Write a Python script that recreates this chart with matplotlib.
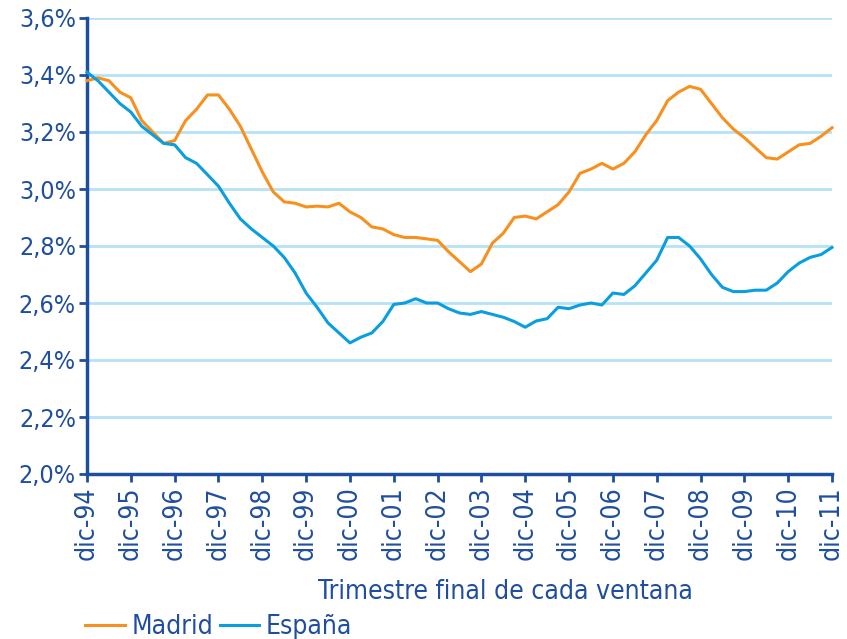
import matplotlib
matplotlib.use("Agg")
import matplotlib.pyplot as plt
from matplotlib.ticker import FuncFormatter, MultipleLocator
from matplotlib import font_manager

years = ["94", "95", "96", "97", "98", "99", "00", "01", "02", "03",
         "04", "05", "06", "07", "08", "09", "10", "11"]
year_labels = ["dic-" + y for y in years]

madrid = [3.38, 3.39, 3.38, 3.34, 3.32, 3.24, 3.20, 3.16, 3.17, 3.24,
          3.28, 3.33, 3.33, 3.28, 3.22, 3.14, 3.06, 2.99, 2.955, 2.95,
          2.937, 2.94, 2.937, 2.95, 2.92, 2.90, 2.867, 2.86, 2.84, 2.83,
          2.83, 2.825, 2.82, 2.78, 2.745, 2.71, 2.737, 2.81, 2.845, 2.90,
          2.905, 2.895, 2.92, 2.945, 2.99, 3.055, 3.07, 3.09, 3.07, 3.09,
          3.13, 3.19, 3.24, 3.31, 3.34, 3.36, 3.35, 3.30, 3.25, 3.21,
          3.18, 3.145, 3.11, 3.105, 3.13, 3.155, 3.16, 3.185, 3.215]

espana = [3.41, 3.38, 3.34, 3.30, 3.27, 3.22, 3.19, 3.16, 3.155, 3.11,
          3.09, 3.05, 3.01, 2.95, 2.895, 2.86, 2.83, 2.80, 2.76, 2.705,
          2.635, 2.585, 2.53, 2.495, 2.46, 2.48, 2.495, 2.535, 2.595, 2.60,
          2.615, 2.60, 2.60, 2.58, 2.565, 2.56, 2.57, 2.56, 2.55, 2.535,
          2.515, 2.537, 2.545, 2.585, 2.58, 2.593, 2.60, 2.593, 2.635, 2.63,
          2.66, 2.705, 2.75, 2.83, 2.83, 2.80, 2.755, 2.70, 2.655, 2.64,
          2.64, 2.645, 2.645, 2.67, 2.71, 2.74, 2.76, 2.77, 2.795]

series_names = ["Madrid", "España"]
x_title = "Trimestre final de cada ventana"

DARK = "#1f4e9e"
ORANGE = "#f7901e"
BLUE = "#0a9ede"
GRID = "#b5e2f6"

names = {f.name for f in font_manager.fontManager.ttflist}
cond = [f for f in font_manager.fontManager.ttflist
        if f.name == 'DejaVu Sans' and 'condensed' in str(f.stretch).lower()]
if 'Liberation Sans Narrow' in names:
    plt.rcParams['font.family'] = ['Liberation Sans Narrow', 'DejaVu Sans']
    YS, TS, XS, LS = 18, 19, 19, 19
elif cond:
    plt.rcParams['font.family'] = ['DejaVu Sans']
    plt.rcParams['font.stretch'] = 'condensed'
    YS, TS, XS, LS = 18, 19, 19, 19
else:
    plt.rcParams['font.family'] = ['Open Sans', 'DejaVu Sans']
    YS, TS, XS, LS = 17, 17, 17, 17

fig = plt.figure(figsize=(8.47, 6.39), dpi=100)
ax = fig.add_axes([87 / 847, 1 - 474 / 639, (832 - 87) / 847, (474 - 18) / 639])

xq = [i / 4 for i in range(len(madrid))]
ax.plot(xq, madrid, color=ORANGE, lw=2.2, label=series_names[0], zorder=3, clip_on=False)
ax.plot(xq, espana, color=BLUE, lw=2.2, label=series_names[1], zorder=3, clip_on=False)

ax.set_xlim(0, len(years) - 1)
ax.set_ylim(2.0, 3.6)
ax.yaxis.set_major_locator(MultipleLocator(0.2))
ax.yaxis.set_major_formatter(FuncFormatter(lambda v, p: f"{v:.1f}%".replace(".", ",")))
ax.set_xticks(range(len(years)))
ax.set_xticklabels(year_labels, rotation=90, fontsize=TS, color=DARK)
ax.tick_params(axis='y', labelsize=YS, labelcolor=DARK, color=DARK, width=2, length=6, direction='out', pad=2)
ax.tick_params(axis='x', color=DARK, width=2, length=6, direction='out', pad=3)

ax.grid(axis='y', color=GRID, lw=2, zorder=0)
ax.set_axisbelow(True)
for s in ['top', 'right']:
    ax.spines[s].set_visible(False)
for s in ['left', 'bottom']:
    ax.spines[s].set_color(DARK)
    ax.spines[s].set_linewidth(2.5)

fig.text(505 / 847, 1 - 592 / 639, x_title, fontsize=XS, color=DARK, ha='center', va='center')

fig.legend(loc='center left', bbox_to_anchor=(85 / 847, 1 - 627 / 639), ncol=2, frameon=False,
           fontsize=LS, labelcolor=DARK, handlelength=1.5, handletextpad=0.25,
           columnspacing=0.25, borderaxespad=0, borderpad=0)

fig.savefig("out.png", dpi=100)
